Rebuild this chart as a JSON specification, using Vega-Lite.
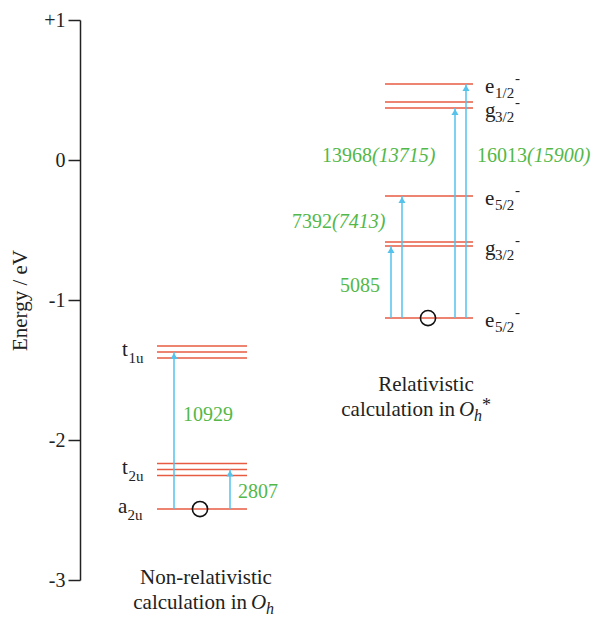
{
  "$schema": "https://vega.github.io/schema/vega-lite/v6.json",
  "width": 521,
  "height": 560,
  "autosize": "none",
  "padding": {"left": 80, "top": 20, "right": 0, "bottom": 39},
  "background": "white",
  "config": {"view": {"stroke": null}, "font": "Liberation Serif", "text": {"font": "Liberation Serif"}},
  "datasets": {
    "levels": [
      {"x": 77, "x2": 167, "E": -1.329},
      {"x": 77, "x2": 167, "E": -1.371},
      {"x": 77, "x2": 167, "E": -1.414},
      {"x": 77, "x2": 167, "E": -2.168},
      {"x": 77, "x2": 167, "E": -2.211},
      {"x": 77, "x2": 167, "E": -2.254},
      {"x": 77, "x2": 167, "E": -2.493},
      {"x": 305, "x2": 393, "E": 0.543},
      {"x": 305, "x2": 393, "E": 0.414},
      {"x": 305, "x2": 393, "E": 0.371},
      {"x": 305, "x2": 393, "E": -0.257},
      {"x": 305, "x2": 393, "E": -0.586},
      {"x": 305, "x2": 393, "E": -0.614},
      {"x": 305, "x2": 393, "E": -1.129}
    ],
    "arrows": [
      {"x": 94, "E0": -2.493, "E": -1.371},
      {"x": 150, "E0": -2.493, "E": -2.211},
      {"x": 311, "E0": -1.129, "E": -0.614},
      {"x": 322, "E0": -1.129, "E": -0.257},
      {"x": 375, "E0": -1.129, "E": 0.371},
      {"x": 386, "E0": -1.129, "E": 0.543}
    ],
    "circles": [
      {"x": 120, "E": -2.493},
      {"x": 348, "E": -1.129}
    ],
    "leftLabels": [
      {"l": "t", "s": "1u", "x": 42, "xs": 48.5, "E": -1.371},
      {"l": "t", "s": "2u", "x": 42, "xs": 48.5, "E": -2.211},
      {"l": "a", "s": "2u", "x": 38, "xs": 47.5, "E": -2.493}
    ],
    "rightLabels": [
      {"l": "e", "s": "1/2", "sup": "-", "x": 405, "xs": 415, "E": 0.543},
      {"l": "g", "s": "3/2", "sup": "-", "x": 405, "xs": 415, "E": 0.371},
      {"l": "e", "s": "5/2", "sup": "-", "x": 405, "xs": 415, "E": -0.257},
      {"l": "g", "s": "3/2", "sup": "-", "x": 405, "xs": 415, "E": -0.614},
      {"l": "e", "s": "5/2", "sup": "-", "x": 405, "xs": 415, "E": -1.129}
    ],
    "greenRight": [
      {"t": "5085", "x": 300, "E": -0.9},
      {"t": "7392", "x": 252, "E": -0.44},
      {"t": "13968", "x": 292, "E": 0.03},
      {"t": "16013", "x": 447, "E": 0.03}
    ],
    "greenLeft": [
      {"t": "10929", "x": 103, "E": -1.82},
      {"t": "2807", "x": 158, "E": -2.37}
    ],
    "greenItalic": [
      {"t": "(7413)", "x": 252, "E": -0.44},
      {"t": "(13715)", "x": 292, "E": 0.03},
      {"t": "(15900)", "x": 447, "E": 0.03}
    ],
    "capCenter": [
      {"t": "Non-relativistic", "x": 126, "E": -2.986},
      {"t": "Relativistic", "x": 346, "E": -1.607}
    ],
    "capRight": [
      {"t": "calculation in", "x": 167, "E": -3.164},
      {"t": "calculation in", "x": 375, "E": -1.786}
    ],
    "capO": [
      {"t": "O", "x": 171, "E": -3.164},
      {"t": "O", "x": 379, "E": -1.786}
    ],
    "capSub": [
      {"t": "h", "x": 186, "E": -3.164},
      {"t": "h", "x": 394, "E": -1.786}
    ],
    "capSup": [
      {"t": "*", "x": 402, "E": -1.786}
    ]
  },
  "encoding": {
    "x": {"field": "x", "type": "quantitative", "scale": {"domain": [0, 521], "nice": false, "zero": false}, "axis": null},
    "y": {
      "field": "E", "type": "quantitative",
      "scale": {"domain": [-3, 1], "nice": false, "zero": false},
      "axis": {
        "title": "Energy / eV",
        "values": [-3, -2, -1, 0, 1],
        "labelExpr": "datum.value > 0 ? '+' + datum.value : '' + datum.value",
        "grid": false,
        "domainColor": "#222", "domainWidth": 1.5,
        "tickColor": "#222", "tickWidth": 1.5, "tickSize": 12,
        "labelFont": "Liberation Serif", "labelFontSize": 20, "labelColor": "#222",
        "labelPadding": 3, "labelFlush": false, "labelOverlap": false, "labelBound": false,
        "titleFont": "Liberation Serif", "titleFontSize": 21, "titleFontWeight": "normal",
        "titleColor": "#222", "titlePadding": 13
      }
    }
  },
  "layer": [
    {
      "data": {"name": "levels"},
      "mark": {"type": "rule", "color": "#e65b42", "strokeWidth": 1.6},
      "encoding": {"x2": {"field": "x2"}}
    },
    {
      "data": {"name": "arrows"},
      "mark": {"type": "rule", "color": "#55c2ec", "strokeWidth": 1.5},
      "encoding": {"y2": {"field": "E0"}}
    },
    {
      "data": {"name": "arrows"},
      "mark": {"type": "point", "shape": "triangle-up", "filled": true, "color": "#55c2ec", "size": 50, "opacity": 1, "yOffset": 4},
      "encoding": {}
    },
    {
      "data": {"name": "circles"},
      "mark": {"type": "point", "shape": "circle", "filled": false, "stroke": "#111", "strokeWidth": 1.6, "size": 230, "opacity": 1},
      "encoding": {}
    },
    {
      "data": {"name": "leftLabels"},
      "mark": {"type": "text", "font": "Liberation Serif", "align": "left", "baseline": "alphabetic", "dy": 4, "fontSize": 21, "color": "#222"},
      "encoding": {"text": {"field": "l"}}
    },
    {
      "data": {"name": "leftLabels"},
      "mark": {"type": "text", "font": "Liberation Serif", "align": "left", "baseline": "alphabetic", "dy": 11, "fontSize": 15, "color": "#222"},
      "encoding": {
        "x": {"field": "xs", "type": "quantitative", "scale": {"domain": [0, 521], "nice": false, "zero": false}, "axis": null},
        "text": {"field": "s"}
      }
    },
    {
      "data": {"name": "rightLabels"},
      "mark": {"type": "text", "font": "Liberation Serif", "align": "left", "baseline": "alphabetic", "dy": 9, "fontSize": 21, "color": "#222"},
      "encoding": {"text": {"field": "l"}}
    },
    {
      "data": {"name": "rightLabels"},
      "mark": {"type": "text", "font": "Liberation Serif", "align": "left", "baseline": "alphabetic", "dy": 14, "fontSize": 15, "color": "#222"},
      "encoding": {
        "x": {"field": "xs", "type": "quantitative", "scale": {"domain": [0, 521], "nice": false, "zero": false}, "axis": null},
        "text": {"field": "s"}
      }
    },
    {
      "data": {"name": "rightLabels"},
      "mark": {"type": "text", "font": "Liberation Serif", "align": "left", "baseline": "alphabetic", "dx": 20, "dy": -1, "fontSize": 15, "color": "#222"},
      "encoding": {
        "x": {"field": "xs", "type": "quantitative", "scale": {"domain": [0, 521], "nice": false, "zero": false}, "axis": null},
        "text": {"field": "sup"}
      }
    },
    {
      "data": {"name": "greenRight"},
      "mark": {"type": "text", "font": "Liberation Serif", "align": "right", "baseline": "middle", "fontSize": 20, "color": "#52b848"},
      "encoding": {"text": {"field": "t"}}
    },
    {
      "data": {"name": "greenLeft"},
      "mark": {"type": "text", "font": "Liberation Serif", "align": "left", "baseline": "middle", "fontSize": 20, "color": "#52b848"},
      "encoding": {"text": {"field": "t"}}
    },
    {
      "data": {"name": "greenItalic"},
      "mark": {"type": "text", "font": "Liberation Serif", "align": "left", "baseline": "middle", "fontSize": 20, "fontStyle": "italic", "color": "#52b848"},
      "encoding": {"text": {"field": "t"}}
    },
    {
      "data": {"name": "capCenter"},
      "mark": {"type": "text", "font": "Liberation Serif", "align": "center", "baseline": "middle", "fontSize": 21, "color": "#222"},
      "encoding": {"text": {"field": "t"}}
    },
    {
      "data": {"name": "capRight"},
      "mark": {"type": "text", "font": "Liberation Serif", "align": "right", "baseline": "middle", "fontSize": 21, "color": "#222"},
      "encoding": {"text": {"field": "t"}}
    },
    {
      "data": {"name": "capO"},
      "mark": {"type": "text", "font": "Liberation Serif", "align": "left", "baseline": "middle", "fontSize": 21, "fontStyle": "italic", "color": "#222"},
      "encoding": {"text": {"field": "t"}}
    },
    {
      "data": {"name": "capSub"},
      "mark": {"type": "text", "font": "Liberation Serif", "align": "left", "baseline": "middle", "dy": 6, "fontSize": 16, "fontStyle": "italic", "color": "#222"},
      "encoding": {"text": {"field": "t"}}
    },
    {
      "data": {"name": "capSup"},
      "mark": {"type": "text", "font": "Liberation Serif", "align": "left", "baseline": "middle", "dy": -4, "fontSize": 18, "color": "#222"},
      "encoding": {"text": {"field": "t"}}
    }
  ]
}
